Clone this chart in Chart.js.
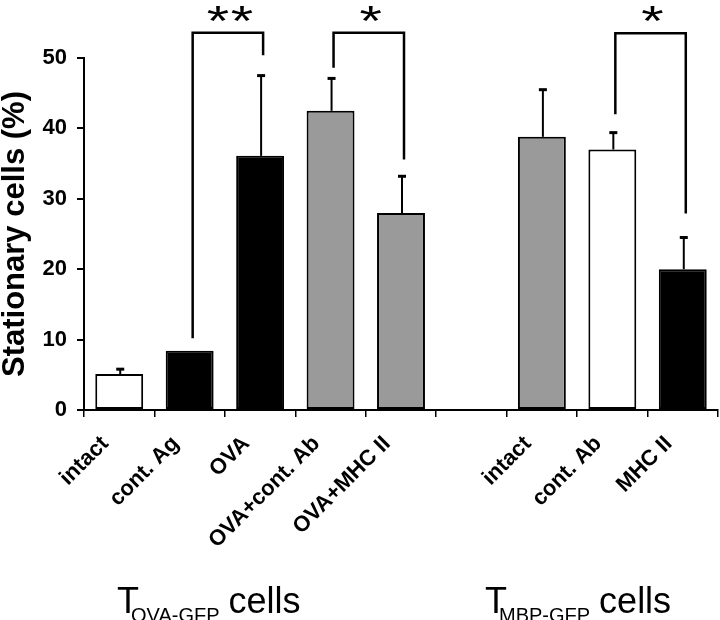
<!DOCTYPE html>
<html>
<head>
<meta charset="utf-8">
<script src="https://cdn.jsdelivr.net/npm/chart.js@4/dist/chart.umd.min.js"></script>
<style>
  html, body { margin: 0; padding: 0; background: #ffffff; }
  canvas { display: block; }
</style>
</head>
<body>
<canvas id="c" width="720" height="620"></canvas>
<script>
// ---- data ----
const categories = ['intact', 'cont. Ag', 'OVA', 'OVA+cont. Ab', 'OVA+MHC II', '', 'intact', 'cont. Ab', 'MHC II'];
const means      = [5.1, 8.4, 36.1, 42.5, 28.0, null, 38.8, 37.0, 20.0];
const errors     = [0.7, 0, 11.4, 4.6, 5.2, null, 6.7, 2.4, 4.5];   // upper error (SD)
const yTicks     = [0, 10, 20, 30, 40, 50];
const yTitle     = 'Stationary cells (%)';
// significance brackets: [left index, right index, bracket top, left leg end, right leg end, label]
const brackets = [
  [1, 2, 53.6, 10.2, 50.4, '**'],
  [3, 4, 53.6, 48.6, 35.6, '*'],
  [7, 8, 53.5, 42.0, 27.9, '*']
];
const groupNames = [['T', 'OVA-GFP', 'cells'], ['T', 'MBP-GFP', 'cells']];

// ---- styles ----
const FONT = '"Liberation Sans", Arial, Helvetica, sans-serif';
const barFill = ['#ffffff', '#000000', '#000000', '#9a9a9a', '#9a9a9a', '#ffffff', '#9a9a9a', '#ffffff', '#000000'];

const overlay = {
  id: 'overlay',
  afterDatasetsDraw(chart) {
    const ctx = chart.ctx;
    const y = chart.scales.y;
    const x = chart.scales.x;
    const meta = chart.getDatasetMeta(0);
    ctx.save();
    ctx.strokeStyle = '#000';
    ctx.lineCap = 'butt';
    // error bars (upper only)
    means.forEach((m, i) => {
      if (m === null || !errors[i]) return;
      const bx = meta.data[i].x + 1;
      const top = y.getPixelForValue(m);
      const et = y.getPixelForValue(m + errors[i]);
      ctx.lineWidth = 2;
      ctx.beginPath();
      ctx.moveTo(bx, top);
      ctx.lineTo(bx, et);
      ctx.stroke();
      ctx.lineWidth = 3;
      ctx.beginPath();
      ctx.moveTo(bx - 4, et);
      ctx.lineTo(bx + 4, et);
      ctx.stroke();
    });
    // brackets
    ctx.lineWidth = 2.5;
    brackets.forEach(([a, b, t, la, lb, lab]) => {
      const xa = x.getPixelForValue(a) + 3;
      const xb = x.getPixelForValue(b) + 3;
      const yt = y.getPixelForValue(t);
      ctx.beginPath();
      ctx.moveTo(xa, y.getPixelForValue(la));
      ctx.lineTo(xa, yt);
      ctx.lineTo(xb, yt);
      ctx.lineTo(xb, y.getPixelForValue(lb));
      ctx.stroke();
      ctx.fillStyle = '#000';
      ctx.font = '50px ' + FONT;
      ctx.textAlign = 'center';
      ctx.textBaseline = 'alphabetic';
      const n = lab.length;
      const mid = (xa + xb) / 2 + 2;
      for (let k = 0; k < n; k++) {
        const cx = mid + (k - (n - 1) / 2) * 24;
        ctx.save();
        ctx.translate(cx, yt + 2);
        ctx.scale(1.15, 0.85);
        ctx.fillText('*', 0, 0);
        ctx.restore();
      }
    });
    // group labels
    const starts = [x.left + 33, x.left + 401];
    groupNames.forEach(([big, sub, tail], g) => {
      let px = starts[g];
      ctx.fillStyle = '#000';
      ctx.textAlign = 'left';
      ctx.textBaseline = 'alphabetic';
      ctx.font = '36px ' + FONT;
      ctx.fillText(big, px, 613);
      px += ctx.measureText(big).width - 8;
      ctx.font = '20px ' + FONT;
      ctx.fillText(sub, px, 622);
      px += ctx.measureText(sub).width + 9;
      ctx.font = '36px ' + FONT;
      ctx.fillText(tail, px, 613);
    });
    ctx.restore();
  }
};

new Chart(document.getElementById('c'), {
  type: 'bar',
  data: {
    labels: categories,
    datasets: [{
      data: means,
      backgroundColor: barFill,
      borderColor: '#000',
      borderWidth: 2,
      borderSkipped: false,
      barPercentage: 0.68,
      categoryPercentage: 1.0
    }]
  },
  options: {
    responsive: false,
    devicePixelRatio: 1,
    animation: false,
    layout: { padding: { top: 58, right: 2, left: 0, bottom: 0 } },
    plugins: { legend: { display: false }, tooltip: { enabled: false } },
    scales: {
      x: {
        grid: { display: true, drawOnChartArea: false, drawTicks: true, tickLength: 7, color: '#000', lineWidth: 1.5, offset: true },
        border: { display: true, color: '#000', width: 2 },
        ticks: {
          color: '#000',
          font: { family: FONT, size: 22, weight: 'bold' },
          minRotation: 45, maxRotation: 45,
          autoSkip: false,
          padding: 14,
          labelOffset: -14
        },
        afterFit(axis) { axis.height = 210; }
      },
      y: {
        min: 0, max: 50,
        afterBuildTicks(axis) { axis.ticks = yTicks.map(v => ({ value: v })); },
        grid: { display: true, drawOnChartArea: false, drawTicks: true, tickLength: 7, color: '#000', lineWidth: 2 },
        border: { display: true, color: '#000', width: 2 },
        ticks: { color: '#000', font: { family: FONT, size: 22, weight: 'bold' }, padding: 10 },
        title: { display: true, text: yTitle, color: '#000', font: { family: FONT, size: 31, weight: 'bold', lineHeight: 1.0 }, padding: { top: 0, bottom: 2 } },
        afterFit(axis) { axis.width = 84; }
      }
    }
  },
  plugins: [overlay]
});
</script>
</body>
</html>
